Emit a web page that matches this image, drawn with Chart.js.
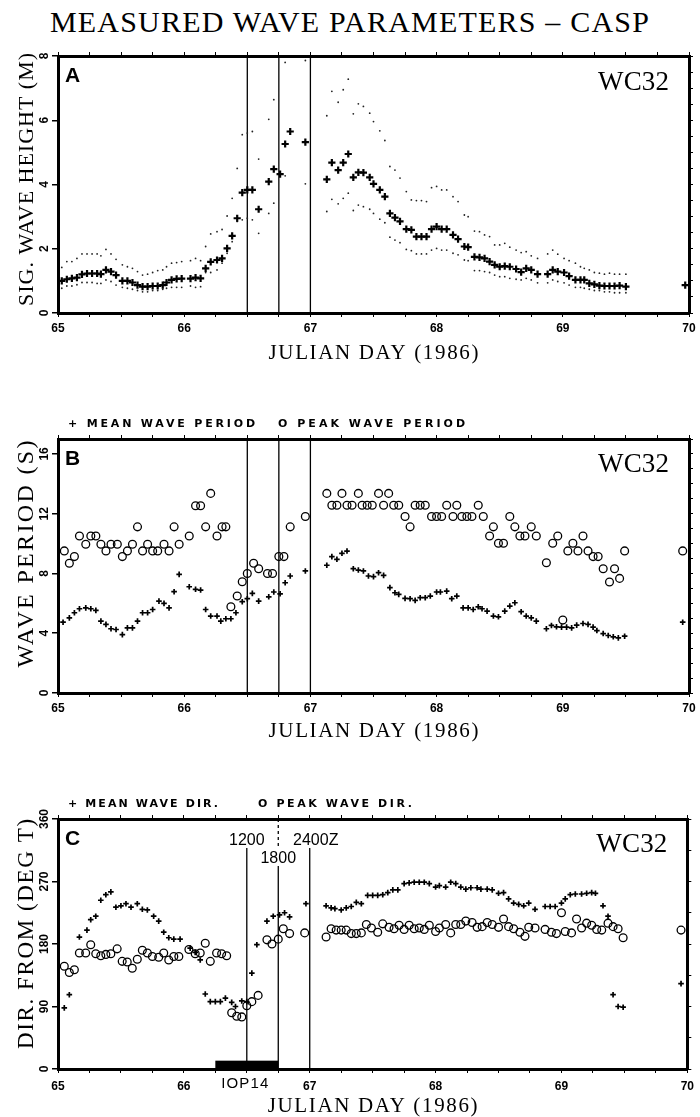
<!DOCTYPE html>
<html><head><meta charset="utf-8">
<script src="https://cdn.jsdelivr.net/npm/chart.js@4.4.1/dist/chart.umd.min.js"></script>
<style>
html,body{margin:0;padding:0;background:#fff;width:700px;height:1117px;overflow:hidden}
#title{position:absolute;left:0;top:7px;width:700px;text-align:center;font-family:'Liberation Serif',serif;font-size:30px;line-height:30px;letter-spacing:1.2px;color:#000;white-space:nowrap}
canvas{position:absolute;left:0}
</style></head><body>
<div id="title">MEASURED WAVE PARAMETERS – CASP</div>
<canvas id="cA" width="700" height="380" style="top:0"></canvas>
<canvas id="cB" width="700" height="375" style="top:380px"></canvas>
<canvas id="cC" width="700" height="362" style="top:755px"></canvas>
<script>
// ---------- DATA ----------
const xTickLabels = ['65','66','67','68','69','70'];
const aYTicks = [0,2,4,6,8];
const bYTicks = [0,4,8,12,16];
const cYTicks = [0,90,180,270,360];
const markerDays = [66.5, 66.75, 67];
const iopDays = [66.25, 66.75];
const iopHeight = 12;

// Panel A: significant wave height (m) with upper/lower bounds
const aDays = [65.03,65.07,65.11,65.15,65.19,65.23,65.27,65.31,65.34,65.38,65.42,65.46,65.51,65.55,65.59,65.63,65.67,65.71,65.75,65.79,65.83,65.86,65.90,65.94,65.98,66.05,66.09,66.13,66.17,66.21,66.26,66.30,66.34,66.38,66.42,66.46,66.50,66.54,66.59,66.67,66.71,66.76,66.80,66.84,66.96,67.13,67.17,67.22,67.26,67.30,
67.34,67.38,67.42,67.47,67.50,67.55,67.59,67.63,67.67,67.71,67.76,67.80,67.84,67.88,67.92,67.96,68.00,68.04,68.08,68.13,68.17,68.22,68.25,68.30,68.34,68.38,68.42,68.46,68.50,68.54,68.58,68.63,68.67,68.71,68.75,68.80,68.88,68.92,68.96,69.01,69.05,69.10,69.14,69.17,69.21,69.25,69.29,69.33,69.37,69.41,69.45,69.50,69.97];
const aHs = [1.0,1.05,1.08,1.1,1.2,1.23,1.23,1.23,1.21,1.34,1.29,1.18,1.0,1.0,0.95,0.87,0.82,0.82,0.84,0.84,0.87,0.95,1.03,1.06,1.07,1.07,1.1,1.08,1.39,1.59,1.65,1.7,2.01,2.4,2.95,3.75,3.83,3.83,3.23,4.09,4.48,4.32,5.26,5.65,5.32,4.16,4.68,4.45,4.68,4.95,
4.22,4.38,4.37,4.22,4.02,3.83,3.62,3.1,2.97,2.85,2.61,2.59,2.38,2.38,2.38,2.61,2.69,2.61,2.61,2.43,2.3,2.07,2.05,1.75,1.73,1.7,1.6,1.5,1.44,1.46,1.44,1.37,1.27,1.39,1.34,1.21,1.21,1.34,1.29,1.26,1.15,1.03,1.03,1.03,0.92,0.89,0.85,0.84,0.84,0.84,0.85,0.82,0.87];
const aHsHi = [1.42,1.6,1.6,1.7,1.84,1.84,1.84,1.84,1.78,1.98,1.84,1.67,1.5,1.44,1.39,1.29,1.18,1.21,1.26,1.32,1.34,1.44,1.55,1.57,1.6,1.63,1.7,1.63,2.07,2.46,2.53,2.6,3.02,3.57,4.5,5.55,5.6,5.65,4.79,6.03,6.64,null,7.8,null,7.86,6.14,6.9,6.56,6.95,7.28,
6.2,6.51,6.43,6.22,5.96,5.67,5.37,4.56,4.45,4.2,3.78,3.52,3.5,3.5,3.47,3.9,3.94,3.83,3.83,3.62,3.47,3.05,3.0,2.55,2.53,2.43,2.38,2.12,2.12,2.17,2.05,1.96,1.88,1.91,1.78,1.7,1.84,1.96,1.83,1.7,1.63,1.55,1.44,1.39,1.34,1.26,1.24,1.21,1.24,1.21,1.21,1.21,null];
const aHsLo = [0.77,0.84,0.84,0.88,0.95,0.95,0.95,0.92,0.92,1.03,0.98,0.87,0.8,0.77,0.74,0.7,0.66,0.66,0.7,0.7,0.74,0.77,0.8,0.8,0.8,0.84,0.8,0.82,1.26,1.26,1.34,1.55,1.86,2.22,2.85,2.9,2.95,2.9,2.48,3.1,3.42,null,4.27,null,4.02,3.16,3.54,3.4,3.57,3.73,
3.19,3.36,3.31,3.23,3.1,2.92,2.81,2.36,2.27,2.19,1.98,1.94,1.84,1.84,1.84,1.96,2.01,1.96,1.96,1.86,1.81,1.65,1.63,1.32,1.32,1.29,1.26,1.18,1.13,1.13,1.08,1.05,1.03,1.08,1.03,0.94,0.94,1.03,0.98,0.94,0.87,0.8,0.8,0.77,0.74,0.7,0.7,0.66,0.66,0.63,0.63,0.63,null];

// Panel B: wave period (s)
const bMeanDays = [65.04,65.09,65.13,65.17,65.22,65.26,65.30,65.34,65.38,65.42,65.46,65.51,65.55,65.59,65.63,65.67,65.71,65.75,65.80,65.84,65.88,65.92,65.96,66.04,66.09,66.13,66.17,66.21,66.26,66.29,66.33,66.37,66.41,66.46,66.50,66.54,66.59,66.67,66.71,66.76,66.80,66.84,66.96,67.13,67.17,67.21,67.25,67.29,
67.34,67.38,67.42,67.46,67.50,67.54,67.58,67.63,67.67,67.70,67.75,67.79,67.83,67.87,67.91,67.95,68.00,68.03,68.08,68.12,68.16,68.21,68.25,68.29,68.33,68.36,68.40,68.45,68.49,68.54,68.58,68.62,68.67,68.71,68.75,68.79,68.87,68.91,68.95,68.99,69.03,69.07,69.11,69.16,69.20,69.24,69.27,69.32,69.36,69.40,69.44,69.49,69.95];
const bMeanPeriod = [4.74,5.03,5.37,5.64,5.70,5.64,5.53,4.81,4.59,4.30,4.25,3.91,4.36,4.36,4.81,5.37,5.37,5.59,6.15,6.00,5.70,6.78,7.94,7.11,6.94,6.89,5.59,5.15,5.15,4.81,4.97,4.97,5.37,6.11,6.31,6.67,6.15,6.44,6.76,6.64,7.38,7.83,8.17,8.55,9.13,8.95,9.35,9.50,
8.32,8.23,8.17,7.83,7.79,8.05,7.87,7.05,6.71,6.60,6.33,6.31,6.20,6.38,6.38,6.49,6.76,6.76,6.82,6.31,6.49,5.70,5.70,5.59,5.77,5.64,5.48,5.15,5.10,5.48,5.82,6.04,5.44,5.15,5.03,4.81,4.30,4.52,4.43,4.41,4.41,4.36,4.54,4.65,4.59,4.41,4.18,3.98,3.85,3.76,3.69,3.80,4.74];
const bPeakDays = [65.05,65.09,65.13,65.17,65.22,65.26,65.30,65.34,65.38,65.42,65.47,65.51,65.55,65.59,65.63,65.67,65.71,65.75,65.79,65.84,65.88,65.92,65.96,66.04,66.09,66.13,66.17,66.21,66.26,66.30,66.33,66.37,66.42,66.46,66.50,66.55,66.59,66.66,66.70,66.75,66.79,66.84,66.96,67.13,67.17,67.21,67.25,67.29,
67.33,67.38,67.41,67.45,67.49,67.54,67.58,67.62,67.66,67.70,67.75,67.79,67.83,67.87,67.91,67.96,68.00,68.04,68.08,68.13,68.16,68.20,68.24,68.28,68.33,68.37,68.42,68.45,68.49,68.53,68.58,68.62,68.66,68.70,68.75,68.79,68.87,68.92,68.96,69.00,69.04,69.08,69.12,69.16,69.20,69.24,69.28,69.32,69.37,69.41,69.45,69.49,69.95];
const bPeakPeriod = [9.51,8.68,9.13,10.51,9.96,10.51,10.51,9.96,9.51,9.96,9.96,9.13,9.51,9.96,11.12,9.51,9.96,9.51,9.51,9.96,9.51,11.12,9.96,10.51,12.53,12.53,11.12,13.36,10.51,11.12,11.12,5.77,6.49,7.45,8.0,8.68,8.32,8.0,8.0,9.13,9.13,11.12,11.81,13.36,12.57,12.57,13.36,12.57,
12.57,13.36,12.57,12.57,12.57,13.36,12.57,13.36,12.57,12.57,11.81,11.12,12.57,12.57,12.57,11.81,11.81,11.81,12.57,11.81,12.57,11.81,11.81,11.81,12.57,11.81,10.51,11.12,10.02,10.02,11.81,11.12,10.51,10.51,11.12,10.51,8.72,10.02,10.51,4.88,9.51,10.02,9.51,10.51,9.51,9.13,9.13,8.32,7.43,8.32,7.67,9.51,9.51];

// Panel C: direction from (deg T)
const cMeanDays = [65.05,65.09,65.17,65.23,65.26,65.30,65.34,65.38,65.42,65.46,65.50,65.54,65.58,65.63,65.67,65.71,65.76,65.80,65.84,65.88,65.92,65.97,66.05,66.09,66.13,66.17,66.21,66.25,66.29,66.33,66.38,66.41,66.46,66.50,66.54,66.58,66.66,66.71,66.76,66.80,66.84,66.97,67.13,67.17,67.20,67.25,67.29,
67.33,67.37,67.41,67.46,67.50,67.54,67.58,67.62,67.66,67.70,67.75,67.79,67.83,67.87,67.91,67.95,68.00,68.03,68.08,68.12,68.16,68.20,68.24,68.28,68.33,68.36,68.41,68.45,68.50,68.54,68.58,68.62,68.66,68.70,68.74,68.79,68.87,68.91,68.95,69.00,69.03,69.07,69.11,69.16,69.20,69.24,69.27,69.33,69.37,69.41,69.45,69.49,69.95];
const cMeanDir = [88,107,190,200,215,220,243,251,255,233,235,238,233,238,230,229,220,213,197,189,187,187,174,168,157,108,97,97,97,102,96,90,98,97,138,179,213,220,222,225,219,238,235,232,231,229,232,
234,240,238,250,250,250,251,254,258,258,267,268,269,269,269,267,262,264,262,269,267,262,259,261,261,259,259,258,253,254,245,239,237,235,239,230,234,234,234,239,245,251,252,252,253,254,253,235,220,107,90,89,123];
const cPeakDays = [65.05,65.09,65.13,65.17,65.22,65.26,65.30,65.34,65.38,65.42,65.47,65.51,65.55,65.59,65.63,65.67,65.71,65.75,65.80,65.84,65.88,65.92,65.96,66.04,66.09,66.13,66.17,66.21,66.26,66.30,66.34,66.38,66.42,66.46,66.50,66.54,66.59,66.66,66.70,66.75,66.79,66.84,66.96,67.13,67.17,67.21,67.25,67.29,
67.33,67.37,67.41,67.45,67.49,67.54,67.58,67.63,67.67,67.71,67.75,67.79,67.83,67.87,67.91,67.95,68.00,68.03,68.08,68.12,68.16,68.20,68.24,68.29,68.33,68.37,68.41,68.45,68.50,68.54,68.58,68.62,68.67,68.71,68.74,68.79,68.87,68.92,68.96,69.00,69.03,69.08,69.12,69.16,69.20,69.24,69.28,69.32,69.37,69.41,69.45,69.49,69.95];
const cPeakDir = [148,139,143,167,167,179,166,163,165,166,173,155,154,145,158,171,167,162,161,167,157,162,162,172,166,167,181,155,167,166,163,81,76,75,91,97,106,186,180,187,202,195,196,190,202,200,200,200,
195,195,196,208,203,197,209,204,202,207,201,207,202,203,201,207,198,203,208,196,208,208,213,211,204,205,211,208,204,216,205,202,197,191,204,203,201,197,195,225,198,196,216,203,210,207,201,200,210,205,202,189,200];

// ---------- HELPERS ----------
function pts(xs, ys){ const r=[]; xs.forEach((x,i)=>{ if(ys[i]!=null) r.push({x:x,y:ys[i]}); }); return r; }
const SERIF = "'Liberation Serif', 'DejaVu Serif', serif";
const SANS = "'Liberation Sans', Arial, sans-serif";

function fitText(ctx, text, x, y, width, align){
  ctx.letterSpacing = '0px';
  const w0 = ctx.measureText(text).width;
  const n = Array.from(text).length;
  let sp = n > 1 ? (width - w0) / (n - 1) : 0;
  if (sp < -1.5) sp = -1.5;
  ctx.letterSpacing = sp.toFixed(2) + 'px';
  const left = align === 'center' ? x - width/2 : (align === 'right' ? x - width : x);
  ctx.textAlign = 'left';
  ctx.fillText(text, left, y);
  ctx.letterSpacing = '0px';
}

const deco = {
  id: 'deco',
  beforeDatasetsDraw(chart, args, o){
    const ctx = chart.ctx, a = chart.chartArea, xs = chart.scales.x, ys = chart.scales.y;
    ctx.save();
    ctx.strokeStyle = '#000'; ctx.fillStyle = '#000'; ctx.lineWidth = 1.3;
    markerDays.forEach((d, i) => {
      const px = xs.getPixelForValue(d);
      const segs = o.lineSegs ? o.lineSegs[i] : [[0, null, false]];
      segs.forEach(s => {
        ctx.setLineDash(s[2] ? [3,3] : []);
        ctx.beginPath();
        ctx.moveTo(px, a.top + s[0]);
        ctx.lineTo(px, s[1] == null ? a.bottom : a.top + s[1]);
        ctx.stroke();
      });
    });
    ctx.setLineDash([]);
    if (o.iop){
      const x0 = xs.getPixelForValue(iopDays[0]), x1 = xs.getPixelForValue(iopDays[1]);
      const y0 = ys.getPixelForValue(iopHeight), y1 = ys.getPixelForValue(0);
      ctx.fillRect(x0, y0, x1 - x0, y1 - y0);
    }
    ctx.restore();
  },
  afterDraw(chart, args, o){
    const ctx = chart.ctx, a = chart.chartArea, xs = chart.scales.x, ys = chart.scales.y;
    ctx.save();
    ctx.fillStyle = '#000';
    // rotated y tick labels
    ctx.font = 'bold 12px ' + SANS;
    ctx.textBaseline = 'middle';
    o.yTicks.forEach(v => {
      const py = ys.getPixelForValue(v);
      ctx.save(); ctx.translate(45, py); ctx.rotate(-Math.PI/2);
      ctx.textAlign = 'center'; ctx.fillText(String(v), 0, 0);
      ctx.restore();
    });
    // y title
    ctx.textBaseline = 'alphabetic';
    ctx.font = o.yTitleSize + 'px ' + SERIF;
    ctx.save(); ctx.translate(33, (a.top + a.bottom)/2 + o.yTitleShift); ctx.rotate(-Math.PI/2);
    fitText(ctx, o.yTitle, 0, 0, o.yTitleW, 'center');
    ctx.restore();
    // x title
    ctx.font = '21px ' + SERIF;
    fitText(ctx, 'JULIAN DAY (1986)', (a.left + a.right)/2, a.bottom + o.xTitleOff, 210, 'center');
    // panel letter
    ctx.font = 'bold 21px ' + SANS;
    ctx.textAlign = 'left';
    ctx.fillText(o.letter, a.left + 7, a.top + 26);
    // station label
    ctx.font = '27px ' + SERIF;
    fitText(ctx, 'WC32', a.right - 20, a.top + o.wcOff, 71, 'right');
    // legend
    if (o.legend){
      ctx.font = 'bold 11px ' + "'DejaVu Sans', " + SANS;
      o.legend.forEach(l => fitText(ctx, l.text, l.x, a.top - 12, l.w, 'left'));
    }
    // event annotations
    if (o.times){
      ctx.font = '16px ' + SANS;
      o.times.forEach(t => {
        const px = xs.getPixelForValue(markerDays[t.m]) + t.dx;
        ctx.textAlign = 'center';
        ctx.fillText(t.text, px, a.top + t.dy);
      });
    }
    if (o.iop){
      ctx.font = '15px ' + SANS;
      const px = (xs.getPixelForValue(iopDays[0]) + xs.getPixelForValue(iopDays[1]))/2 - 2;
      fitText(ctx, 'IOP14', px, a.bottom + 19, 47, 'center');
    }
    ctx.restore();
  }
};

function makeChart(id, c){
  const tickCb = v => { const k = Math.round(v); return Math.abs(v - k) < 1e-6 ? xTickLabels[k - 65] : ''; };
  return new Chart(document.getElementById(id), {
    type: 'scatter',
    data: { datasets: c.datasets },
    options: {
      responsive: false, animation: false, devicePixelRatio: 1, events: [],
      layout: { padding: 0 },
      plugins: { legend: { display: false }, tooltip: { enabled: false }, deco: c.deco },
      scales: {
        x: { type: 'linear', position: 'bottom', min: 65, max: 70,
          afterFit: s => { s.height = c.xH; },
          border: { display: true, width: 3, color: '#000' },
          grid: { drawOnChartArea: false, drawTicks: true, tickLength: 4, color: '#000', lineWidth: 1 },
          ticks: { stepSize: 0.25, autoSkip: false, maxRotation: 0, minRotation: 0, padding: c.xPad, color: '#000',
            font: { family: 'Liberation Sans', size: 12, weight: 'bold' }, callback: tickCb } },
        x2: { type: 'linear', position: 'top', min: 65, max: 70,
          afterFit: s => { s.height = c.topH; },
          border: { display: true, width: 3, color: '#000' },
          grid: { drawOnChartArea: false, drawTicks: true, tickLength: 4, color: '#000', lineWidth: 1 },
          ticks: { display: false, stepSize: 0.25, autoSkip: false } },
        y: { type: 'linear', position: 'left', min: 0, max: c.yMax,
          afterFit: s => { s.width = 58; },
          border: { display: true, width: 3, color: '#000' },
          grid: { drawOnChartArea: false, drawTicks: true, tickLength: 6, color: '#000', lineWidth: 1.5 },
          ticks: { display: false, stepSize: c.yStep, includeBounds: false, autoSkip: false } },
        y2: { type: 'linear', position: 'right', min: 0, max: c.yMax,
          afterFit: s => { s.width = 11; },
          border: { display: true, width: 3, color: '#000' },
          grid: { drawOnChartArea: false, drawTicks: true, tickLength: 4, color: '#000', lineWidth: 1 },
          ticks: { display: false, stepSize: c.y2Step, includeBounds: false, autoSkip: false } }
      }
    },
    plugins: [deco]
  });
}

const dotStyle = { pointStyle: 'circle', pointRadius: 0.9, pointBorderWidth: 0, pointBackgroundColor: '#222', pointBorderColor: '#222', pointHoverRadius: 0 };
const crossBig = { pointStyle: 'cross', pointRadius: 3.6, pointBorderWidth: 2.2, pointBorderColor: '#000', pointBackgroundColor: '#000', pointHoverRadius: 0 };
const crossSm = { pointStyle: 'cross', pointRadius: 2.8, pointBorderWidth: 1.7, pointBorderColor: '#000', pointBackgroundColor: '#000', pointHoverRadius: 0 };
const ring = { pointStyle: 'circle', pointRadius: 3.9, pointBorderWidth: 1.3, pointBorderColor: '#000', pointBackgroundColor: 'rgba(0,0,0,0)', pointHoverRadius: 0 };

makeChart('cA', {
  xH: 67, topH: 56, xPad: 4, yMax: 8, yStep: 2, y2Step: 0.5,
  datasets: [
    Object.assign({ label: 'Hs', data: pts(aDays, aHs) }, crossBig),
    Object.assign({ label: 'Hs upper', data: pts(aDays, aHsHi) }, dotStyle),
    Object.assign({ label: 'Hs lower', data: pts(aDays, aHsLo) }, dotStyle)
  ],
  deco: { letter: 'A', yTicks: aYTicks, yTitle: 'SIG. WAVE HEIGHT (M)', yTitleSize: 22, yTitleW: 253, yTitleShift: -5, xTitleOff: 46, wcOff: 34 }
});

makeChart('cB', {
  xH: 62, topH: 59, xPad: 4, yMax: 17, yStep: 4, y2Step: 1,
  datasets: [
    Object.assign({ label: 'Mean wave period', data: pts(bMeanDays, bMeanPeriod) }, crossSm),
    Object.assign({ label: 'Peak wave period', data: pts(bPeakDays, bPeakPeriod) }, ring)
  ],
  deco: { letter: 'B', yTicks: bYTicks, yTitle: 'WAVE PERIOD (S)', yTitleSize: 24, yTitleW: 227, yTitleShift: -12, xTitleOff: 44, wcOff: 33,
    legend: [ { text: '+ MEAN WAVE PERIOD', x: 68, w: 187 }, { text: 'O PEAK WAVE PERIOD', x: 278, w: 187 } ] }
});

makeChart('cC', {
  xH: 48, topH: 64, xPad: 6, yMax: 360, yStep: 90, y2Step: 45,
  datasets: [
    Object.assign({ label: 'Mean wave dir', data: pts(cMeanDays, cMeanDir) }, crossSm),
    Object.assign({ label: 'Peak wave dir', data: pts(cPeakDays, cPeakDir) }, ring)
  ],
  deco: { letter: 'C', yTicks: cYTicks, yTitle: 'DIR. FROM (DEG T)', yTitleSize: 23, yTitleW: 230, yTitleShift: -10, xTitleOff: 43, wcOff: 33,
    legend: [ { text: '+ MEAN WAVE DIR.', x: 68, w: 150 }, { text: 'O PEAK WAVE DIR.', x: 258, w: 154 } ],
    lineSegs: [ [[29, null, false]], [[0, 29, true], [47, null, false]], [[29, null, false]] ],
    times: [ { m: 0, text: '1200', dx: 0, dy: 26 }, { m: 1, text: '1800', dx: 0, dy: 44 }, { m: 2, text: '2400Z', dx: 6, dy: 26 } ],
    iop: true }
});
</script>
</body></html>
